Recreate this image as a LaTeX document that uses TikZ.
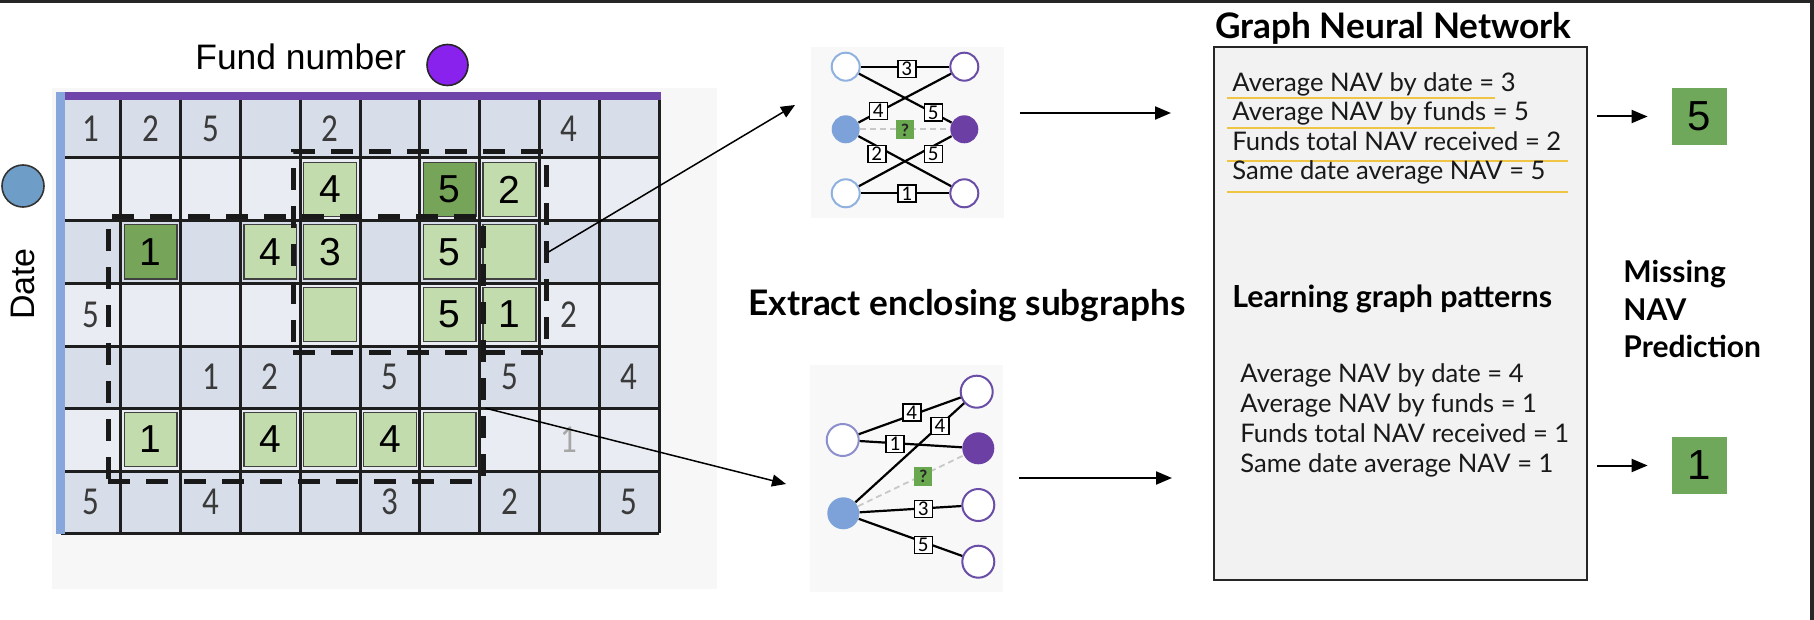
\documentclass[tikz,border=0pt]{standalone}
\usepackage{fontspec}
\setmainfont{Liberation Sans}
\newfontfamily\lato{Lato}
\newfontfamily\carl{Carlito}
\usepackage{graphicx}
\usetikzlibrary{arrows.meta,calc}
\definecolor{bordc}{HTML}{262626}
\definecolor{panelc}{HTML}{F7F7F7}
\definecolor{rowdark}{HTML}{D7DDE9}
\definecolor{rowlight}{HTML}{E9ECF3}
\definecolor{gridline}{HTML}{1E1E1E}
\definecolor{barpurple}{HTML}{6F45A9}
\definecolor{barblue}{HTML}{86A6DC}
\definecolor{lgreen}{HTML}{C3DCAD}
\definecolor{dgreen}{HTML}{76A55A}
\definecolor{numgrey}{HTML}{3A3A3A}
\definecolor{fundpurple}{HTML}{8A22EE}
\definecolor{datesblue}{HTML}{6E9EC8}
\definecolor{sgpanel}{HTML}{F8F8F8}
\definecolor{oblue}{HTML}{8FB1DF}
\definecolor{opurple}{HTML}{6A4DA6}
\definecolor{fblue}{HTML}{7CA2D9}
\definecolor{fpurple}{HTML}{6B3FA3}
\definecolor{qgreen}{HTML}{6AA84F}
\definecolor{gnnfill}{HTML}{F2F2F2}
\definecolor{uyellow}{HTML}{F0C445}
\definecolor{outgreen}{HTML}{70A85B}
\definecolor{dashgrey}{HTML}{C8C8C8}
\definecolor{lavender}{HTML}{8C8FCB}
\newcommand\tallnum[1]{\scalebox{1}[1.2]{#1}}
\tikzset{
  gridl/.style={draw=gridline, line width=1.5pt},
  num/.style={font=\carl\fontsize{16.5}{16.5}\selectfont, text=numgrey, inner sep=0pt},
  gcell/.style={draw=black!75, line width=0.7pt, minimum width=26.4pt, minimum height=27.2pt, inner sep=0pt, font=\fontsize{19.5}{19.5}\selectfont},
  dashrect/.style={draw=black!90, line width=2.5pt, dash pattern=on 11pt off 8pt, inner sep=0pt},
  ptr/.style={line width=0.75pt, -{Triangle[length=7pt,width=6pt]}},
  flow/.style={line width=1pt, -{Triangle[length=8pt,width=6.5pt]}},
  ocirc/.style={circle, draw, fill=white, line width=1pt, inner sep=0pt},
  fcirc/.style={circle, inner sep=0pt},
  elab/.style={draw=black, fill=white, line width=0.8pt, inner sep=0pt, minimum width=9pt, minimum height=8.5pt, font=\carl\fontsize{10.5}{10.5}\selectfont},
  qbox/.style={fill=qgreen, inner sep=0pt, minimum width=9pt, minimum height=9.5pt, font=\carl\bfseries\fontsize{9}{9}\selectfont, text=black!85},
  sgedge/.style={line width=1.1pt, black},
  qedge/.style={line width=0.9pt, dashgrey, dash pattern=on 3pt off 2pt},
  gtext/.style={font=\lato\fontsize{12.8}{12.8}\selectfont, anchor=base west, inner sep=0pt, text=black!90},
  btitle/.style={anchor=base west, inner sep=0pt, text=black},
  uline/.style={uyellow, line width=1pt},
  outbox/.style={fill=outgreen, minimum width=27.5pt, minimum height=28.5pt, font=\fontsize{21}{21}\selectfont, inner sep=0pt}
}
\begin{document}
\begin{tikzpicture}[x=0.5pt,y=-0.5pt]
\useasboundingbox (0,0) rectangle (1814,620);
\fill[white] (0,0) rectangle (1814,620);
% frame edges
\fill[bordc] (0,0) rectangle (1814,3);
\fill[bordc] (1810,0) rectangle (1813.5,620);

% ---------------- grid panel ----------------
\fill[panelc] (52,88) rectangle (717,589);
\foreach \a/\b/\col in {92/158/rowdark, 158/221/rowlight, 221/283/rowdark, 283/346/rowlight, 346/408/rowdark, 408/471/rowlight, 471/533/rowdark}
  \fill[\col] (61,\a) rectangle (659,\b);
\foreach \yy in {158,221,283,346,408,471,533} \draw[gridl] (61,\yy) -- (659,\yy);
\foreach \i in {1,...,10} \draw[gridl] ({61+59.8*\i},100) -- ({61+59.8*\i},533);
\fill[barpurple] (56,92) rectangle (661,100);
\fill[barblue] (56,92) rectangle (65,534);

% plain numbers
\foreach \c/\r/\y/\t in {1/1/129/1, 2/1/129/2, 3/1/129/5, 5/1/129/2, 9/1/129/4,
  1/4/314.5/5, 9/4/314.5/2,
  3/5/377/1, 4/5/377/2, 6/5/377/5, 8/5/377/5, 10/5/377/4,
  1/7/502/5, 3/7/502/4, 6/7/502/3, 8/7/502/2, 10/7/502/5}
  \node[num] (n\c-\r) at ({61+59.8*(\c-0.5)},\y) {\tallnum{\t}};
\node[num, text=black!35] (n9-6) at ({61+59.8*8.5},439.5) {\tallnum{1}};

% green cells
\foreach \c/\r/\y/\t/\f in {5/2/189.5/4/lgreen, 7/2/189.5/5/dgreen, 8/2/189.5/2/lgreen,
  2/3/252/1/dgreen, 4/3/252/4/lgreen, 5/3/252/3/lgreen, 7/3/252/5/lgreen, 8/3/252/{}/lgreen,
  5/4/314.5/{}/lgreen, 7/4/314.5/5/lgreen, 8/4/314.5/1/lgreen,
  2/6/439.5/1/lgreen, 4/6/439.5/4/lgreen, 5/6/439.5/{}/lgreen, 6/6/439.5/4/lgreen, 7/6/439.5/{}/lgreen}
  \node[gcell, fill=\f] (g\c-\r) at ({61+59.8*(\c-0.5)},\y) {\t};

% enclosing subgraph windows
\node[dashrect, minimum width=126.5pt, minimum height=100pt] (rA) at (419.5,252) {};
\node[dashrect, minimum width=187.5pt, minimum height=132pt] (rB) at (295.5,349) {};

% axis labels
\node[anchor=base west, inner sep=0pt, font=\fontsize{17.7}{17.7}\selectfont] (fundlbl) at (195,70) {Fund number};
\node[circle, draw=black!85, line width=0.8pt, fill=fundpurple, minimum size=20.5pt, inner sep=0pt] (fundc) at (447.5,65) {};
\node[circle, draw=black!80, line width=0.8pt, fill=datesblue, minimum size=21pt, inner sep=0pt] (datec) at (23,186) {};
\node[rotate=90, inner sep=0pt, font=\fontsize{17}{17}\selectfont] (datelbl) at (23,284) {Date};

% ---------------- subgraph 1 ----------------
\node[fill=sgpanel, minimum width=96.5pt, minimum height=85.5pt, inner sep=0pt] (sg1) at (907.5,132.5) {};
\node[ocirc, draw=oblue, minimum size=14pt] (a1) at (845.7,66.7) {};
\node[ocirc, draw=opurple, minimum size=14pt] (b1) at (964.3,66.7) {};
\node[fcirc, fill=fblue, minimum size=14pt] (a2) at (845.7,129.3) {};
\node[fcirc, fill=fpurple, minimum size=14pt] (b2) at (964.3,129.3) {};
\node[ocirc, draw=oblue, minimum size=14pt] (a3) at (845.7,193.3) {};
\node[ocirc, draw=opurple, minimum size=14pt] (b3) at (964.3,193.3) {};
\draw[sgedge] (a1) -- (b1);
\draw[sgedge] (a1) -- (b2);
\draw[sgedge] (b1) -- (a2);
\draw[sgedge] (a2) -- (b3);
\draw[sgedge] (b2) -- (a3);
\draw[sgedge] (a3) -- (b3);
\draw[qedge] (a2) -- (b2);
\node[elab] (l13) at (906.7,69) {3};
\node[elab] (l14) at (878.3,111) {4};
\node[elab] (l15) at (933.3,112.5) {5};
\node[elab] (l12) at (876.7,154) {2};
\node[elab] (l15b) at (933.3,154) {5};
\node[elab] (l11) at (906.7,193.3) {1};
\node[qbox] (q1) at (905,130) {?};

% ---------------- subgraph 2 ----------------
\node[fill=sgpanel, minimum width=96.5pt, minimum height=113.5pt, inner sep=0pt] (sg2) at (906.5,478.5) {};
\node[ocirc, draw=opurple, minimum size=16pt] (c1) at (976.7,391.7) {};
\node[ocirc, draw=lavender, minimum size=16pt] (d1) at (842.7,440) {};
\node[fcirc, fill=fpurple, minimum size=16pt] (c2) at (978.3,448.3) {};
\node[fcirc, fill=fblue, minimum size=16pt] (d2) at (843.3,513.3) {};
\node[ocirc, draw=opurple, minimum size=16pt] (c3) at (978.3,505) {};
\node[ocirc, draw=opurple, minimum size=16pt] (c4) at (978.3,561.7) {};
\draw[sgedge] (d1) -- (c1);
\draw[sgedge] (d2) -- (c1);
\draw[sgedge] (d1) -- (c2);
\draw[sgedge] (d2) -- (c3);
\draw[sgedge] (d2) -- (c4);
\draw[qedge] (d2) -- (c2);
\node[elab] (m4a) at (911.7,412.5) {4};
\node[elab] (m4b) at (940,426) {4};
\node[elab] (m1) at (895,444) {1};
\node[qbox] (q2) at (923.3,476.7) {?};
\node[elab] (m3) at (923.3,509) {3};
\node[elab] (m5) at (923.3,545) {5};

% arrows grid -> subgraphs
\coordinate (tipA) at (795,105);
\coordinate (tipB) at (786,484);
\draw[ptr] (rA.east) -- (tipA);
\draw[ptr] ($(rB.north east)!0.72!(rB.south east)$) -- (tipB);

\node[btitle, font=\lato\bfseries\fontsize{17.6}{17.6}\selectfont] (extract) at (748,315) {Extract enclosing subgraphs};

% ---------------- GNN ----------------
\node[btitle, font=\lato\bfseries\fontsize{17.6}{17.6}\selectfont] (gtitle) at (1215,39) {Graph Neural Network};
\node[draw=bordc, fill=gnnfill, line width=1pt, minimum width=186.5pt, minimum height=266.5pt, inner sep=0pt] (gnn) at (1400.5,313.5) {};

\coordinate (y1) at (0,113);
\coordinate (y2) at (0,478);
\draw[flow, shorten <=8pt, shorten >=21pt] (sg1.east |- y1) -- (gnn.west |- y1);
\draw[flow, shorten <=8pt, shorten >=20.5pt] (sg2.east |- y2) -- (gnn.west |- y2);

\draw[uline] (1227,98.5) -- (1495,98.5);
\draw[uline] (1227,128) -- (1495,128);
\draw[uline] (1227,161) -- (1568,161);
\draw[uline] (1227,192) -- (1568,192);
\node[gtext] (t1) at (1232,92) {Average NAV by date = 3};
\node[gtext] (t2) at (1232,121) {Average NAV by funds = 5};
\node[gtext] (t3) at (1232,151) {Funds total NAV received = 2};
\node[gtext] (t4) at (1232,180) {Same date average NAV = 5};

\node[btitle, font=\lato\bfseries\fontsize{15.2}{15.2}\selectfont] (learn) at (1232,307) {Learning graph patterns};

\node[gtext] (u1) at (1240,382) {Average NAV by date = 4};
\node[gtext] (u2) at (1240,412) {Average NAV by funds = 1};
\node[gtext] (u3) at (1240,442) {Funds total NAV received = 1};
\node[gtext] (u4) at (1240,472) {Same date average NAV = 1};

% ---------------- outputs ----------------
\node[outbox] (box5) at (1699.5,116.5) {5};
\node[outbox] (box1) at (1699.5,465.5) {1};
\draw[flow, shorten <=4.5pt, shorten >=12pt] (gnn.east |- box5.west) -- (box5.west);
\draw[flow, shorten <=4.5pt, shorten >=12pt] (gnn.east |- box1.west) -- (box1.west);

\node[btitle, font=\lato\bfseries\fontsize{15}{15}\selectfont] (mis1) at (1623,283) {Missing};
\node[btitle, font=\lato\bfseries\fontsize{15}{15}\selectfont] (mis2) at (1623,320) {NAV};
\node[btitle, font=\lato\bfseries\fontsize{15}{15}\selectfont] (mis3) at (1623,357) {Prediction};
\end{tikzpicture}
\end{document}
